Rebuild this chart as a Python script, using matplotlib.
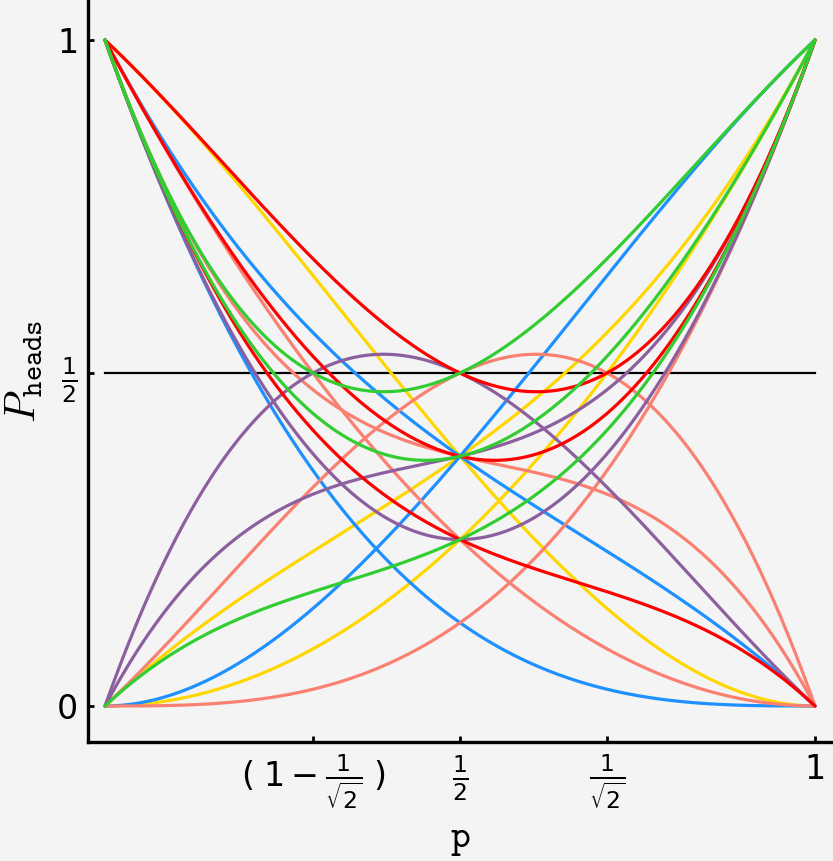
import numpy as np
import matplotlib.pyplot as plt

# each curve is given by its weights (a0, a1, a2, a3) on the
# three-flip outcomes: P = a0 q^3 + a1 p q^2 + a2 p^2 q + a3 p^3, q = 1-p
blue_curves = [(1, 0, 0, 0), (1, 1, 1, 0), (0, 0, 2, 1)]
yellow_curves = [(1, 2, 0, 0), (0, 1, 1, 1), (0, 0, 1, 1)]
salmon_curves = [(0, 0, 0, 1), (0, 1, 3, 0), (1, 0, 2, 0), (1, 1, 0, 0)]
purple_curves = [(0, 3, 1, 0), (0, 2, 0, 1), (1, 0, 0, 1)]
red_curves = [(1, 2, 0, 1), (1, 1, 0, 1), (1, 0, 1, 0)]
green_curves = [(1, 0, 2, 1), (1, 0, 1, 1), (0, 1, 0, 1)]

x_ticks = [1 - 1 / np.sqrt(2), 0.5, 1 / np.sqrt(2), 1]
x_labels = [r'$(\;1-\frac{1}{\sqrt{2}}\;)$', r'$\frac{1}{2}$',
            r'$\frac{1}{\sqrt{2}}$', '1']
y_ticks = [0, 0.5, 1]
y_labels = ['0', r'$\frac{1}{2}$', '1']

groups = [
    (yellow_curves, '#ffd700'),
    (blue_curves, '#1e90ff'),
    (salmon_curves, '#fa8072'),
    (purple_curves, '#8c5f9e'),
    (red_curves, '#ff0000'),
    (green_curves, '#32cd32'),
]


def p_heads(p, w):
    q = 1 - p
    return w[0] * q**3 + w[1] * p * q**2 + w[2] * p**2 * q + w[3] * p**3


bg = '#f4f4f4'
fig = plt.figure(figsize=(8.33, 8.61), dpi=100, facecolor=bg)
ax = fig.add_axes([88 / 833, 1 - 742 / 861, 1 - 88 / 833, 742 / 861])
ax.set_facecolor(bg)

p = np.linspace(0, 1, 400)
ax.plot([0, 1], [0.5, 0.5], color='black', lw=1.6, zorder=1)
for curves, color in groups:
    for w in curves:
        ax.plot(p, p_heads(p, w), color=color, lw=2.3, zorder=2,
                solid_capstyle='round')

ax.set_xlim(-17 / 710, 1 + 18 / 710)
ax.set_ylim(-36 / 666, 706 / 666)

for side in ['top', 'right']:
    ax.spines[side].set_visible(False)
for side in ['left', 'bottom']:
    ax.spines[side].set_linewidth(2.4)

ax.set_xticks(x_ticks)
ax.set_xticklabels(x_labels)
ax.set_yticks(y_ticks)
ax.set_yticklabels(y_labels)
ax.tick_params(direction='in', length=4, width=2, labelsize=24)
ax.tick_params(axis='x', pad=8)
ax.tick_params(axis='y', pad=7)

ax.set_xlabel(r'$\mathtt{p}$', fontsize=27, math_fontfamily='cm')
ax.xaxis.set_label_coords(0.5, -0.108)
ax.set_ylabel(r'$P_{\mathtt{heads}}$', fontsize=30, math_fontfamily='cm')
ax.yaxis.set_label_coords(-0.058, 0.5)

fig.savefig('out.png', dpi=100, facecolor=bg)
